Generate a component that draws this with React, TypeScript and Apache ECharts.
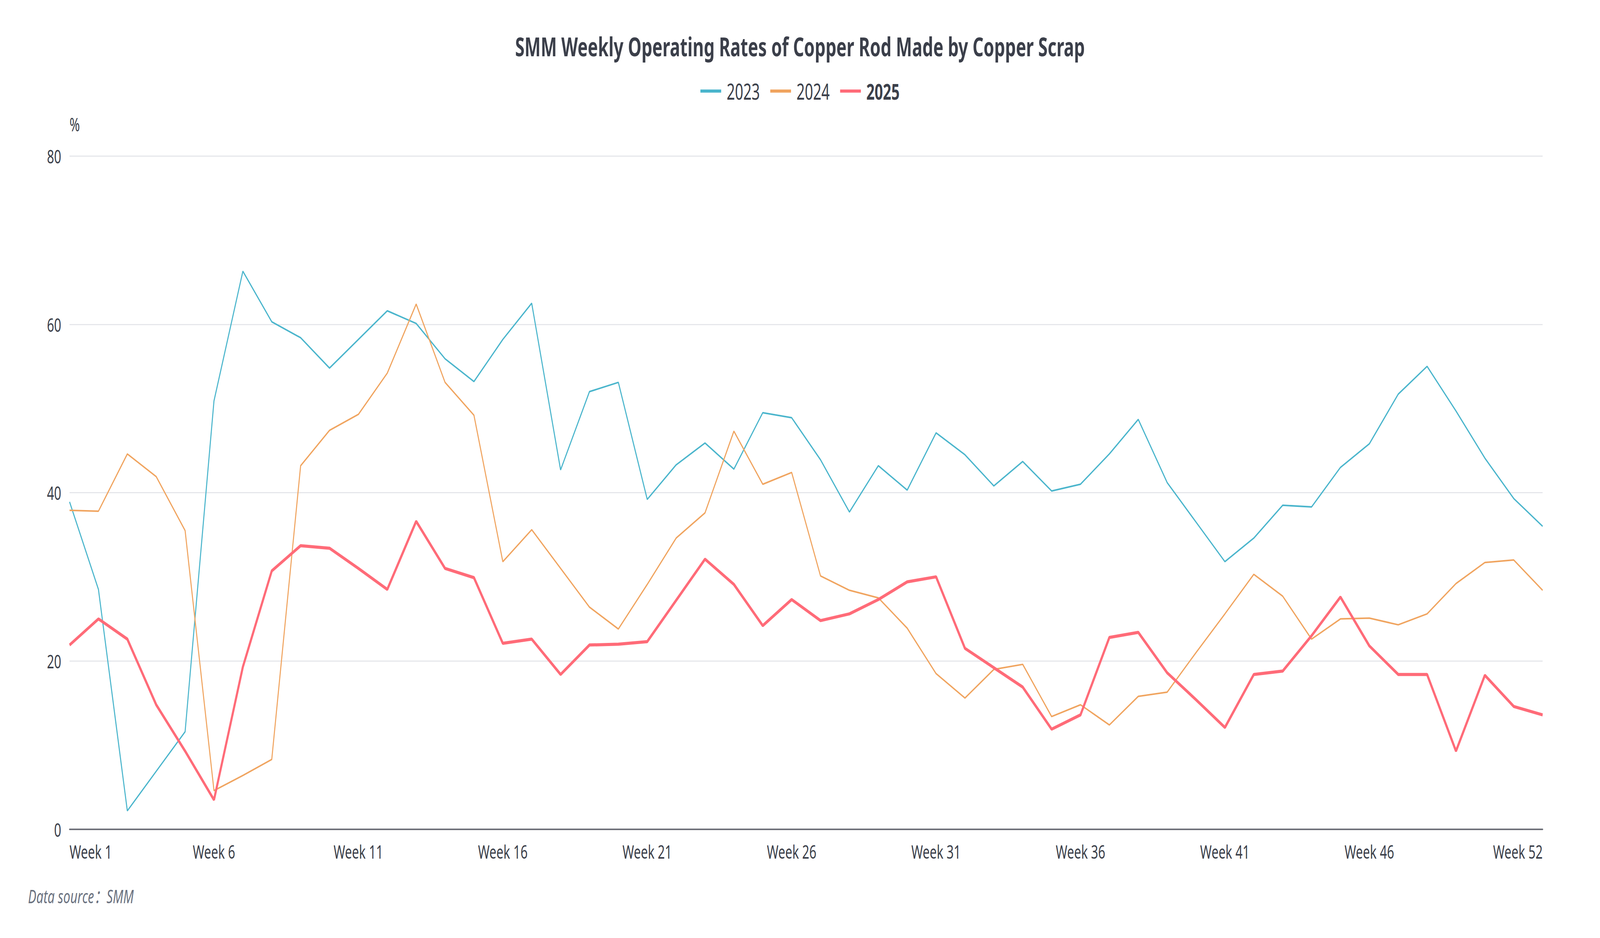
import React, { useEffect, useRef } from "react";
import * as echarts from "echarts";

const weeks = [
  "Week 1", "Week 2", "Week 3", "Week 4", "Week 5", "Week 6", "Week 7", "Week 8", "Week 9", "Week 10",
  "Week 11", "Week 12", "Week 13", "Week 14", "Week 15", "Week 16", "Week 17", "Week 18", "Week 19", "Week 20",
  "Week 21", "Week 22", "Week 23", "Week 24", "Week 25", "Week 26", "Week 27", "Week 28", "Week 29", "Week 30",
  "Week 31", "Week 32", "Week 33", "Week 34", "Week 35", "Week 36", "Week 37", "Week 38", "Week 39", "Week 40",
  "Week 41", "Week 42", "Week 43", "Week 44", "Week 45", "Week 46", "Week 47", "Week 48", "Week 49", "Week 50",
  "Week 51", "Week 52",
];

const rates2023 = [
  38.9, 28.5, 2.2, 6.9, 11.6, 50.9, 66.3, 60.3, 58.4, 54.8,
  58.2, 61.6, 60.1, 55.9, 53.2, 58.2, 62.5, 42.7, 52.0, 53.1,
  39.2, 43.3, 45.9, 42.8, 49.5, 48.9, 43.9, 37.7, 43.2, 40.3,
  47.1, 44.5, 40.8, 43.7, 40.2, 41.0, 44.6, 48.7, 41.2, 36.5,
  31.8, 34.6, 38.5, 38.3, 43.0, 45.8, 51.7, 55.0, 49.7, 44.1, 39.3, 36.0,
];

const rates2024 = [
  37.9, 37.8, 44.6, 41.9, 35.5, 4.6, 6.4, 8.3, 43.2, 47.4,
  49.3, 54.2, 62.4, 53.1, 49.2, 31.8, 35.6, 31.0, 26.4, 23.8,
  29.1, 34.6, 37.6, 47.3, 41.0, 42.4, 30.1, 28.4, 27.5, 23.9,
  18.5, 15.6, 19.0, 19.6, 13.4, 14.8, 12.4, 15.8, 16.3, 21.0,
  25.6, 30.3, 27.7, 22.6, 25.0, 25.1, 24.3, 25.6, 29.2, 31.7, 32.0, 28.4,
];

const rates2025 = [
  21.9, 25.0, 22.6, 14.8, 9.3, 3.5, 19.3, 30.7, 33.7, 33.4,
  31.0, 28.5, 36.6, 31.0, 29.9, 22.1, 22.6, 18.4, 21.9, 22.0,
  22.3, 27.2, 32.1, 29.1, 24.2, 27.3, 24.8, 25.6, 27.3, 29.4,
  30.0, 21.5, 19.2, 16.9, 11.9, 13.6, 22.8, 23.4, 18.6, 15.4,
  12.1, 18.4, 18.8, 23.0, 27.6, 21.8, 18.4, 18.4, 9.3, 18.3, 14.6, 13.6,
];

const seriesNames = ["2023", "2024", "2025"];
const yTicks = { min: 0, max: 80, interval: 20 };

const FONT = '"Noto Sans", "Noto Sans CJK SC", sans-serif';
const TEXT = "#3b3f4a";
const W = 6164;
const H = 2400;

export default function App() {
  const ref = useRef<HTMLDivElement>(null);
  const sx = typeof window !== "undefined" ? Math.min(1, window.innerWidth / W) : 1;
  const sy = typeof window !== "undefined" ? Math.min(1, window.innerHeight / H) : 1;

  useEffect(() => {
    if (!ref.current) return;
    const chart = echarts.init(ref.current, null, { renderer: "svg", width: W, height: H });
    chart.setOption({
      animation: false,
      backgroundColor: "#ffffff",
      textStyle: { fontFamily: FONT },
      title: {
        text: "SMM Weekly Operating Rates of Copper Rod Made by Copper Scrap",
        left: "center",
        top: 80,
        textStyle: { fontSize: 66, fontWeight: "bold", color: TEXT, fontFamily: FONT },
      },
      legend: {
        top: 200,
        left: "center",
        icon: "rect",
        itemWidth: 80,
        itemHeight: 8,
        itemGap: 40,
        textStyle: { fontSize: 56, color: TEXT, fontFamily: FONT, padding: [0, 0, 0, 16] },
        data: [
          { name: seriesNames[0] },
          { name: seriesNames[1] },
          { name: seriesNames[2], textStyle: { fontWeight: "bold" } },
        ],
      },
      grid: { left: 268, right: 221, top: 399, bottom: 278, containLabel: false },
      xAxis: {
        type: "category",
        boundaryGap: false,
        data: weeks,
        axisLine: { lineStyle: { color: "#6e7079", width: 4 } },
        axisTick: { show: false },
        axisLabel: {
          fontSize: 48,
          color: TEXT,
          margin: 32,
          fontFamily: FONT,
          alignMinLabel: "left",
          alignMaxLabel: "right",
          interval: (i: number) => (i % 5 === 0 && i < 50) || i === 51,
        },
        splitLine: { show: false },
      },
      yAxis: {
        type: "value",
        min: yTicks.min,
        max: yTicks.max,
        interval: yTicks.interval,
        name: "%",
        nameGap: 58,
        nameTextStyle: { fontSize: 48, color: TEXT, align: "left", fontFamily: FONT },
        axisLine: { show: false },
        axisTick: { show: false },
        axisLabel: { fontSize: 48, color: TEXT, margin: 32, fontFamily: FONT },
        splitLine: { lineStyle: { color: "#e6e7eb", width: 3 } },
      },
      series: [
        {
          name: seriesNames[0],
          type: "line",
          data: rates2023,
          showSymbol: false,
          symbol: "none",
          color: "#4ab5cc",
          lineStyle: { width: 4, color: "#4ab5cc" },
          z: 2,
        },
        {
          name: seriesNames[1],
          type: "line",
          data: rates2024,
          showSymbol: false,
          symbol: "none",
          color: "#f0a45f",
          lineStyle: { width: 4, color: "#f0a45f" },
          z: 3,
        },
        {
          name: seriesNames[2],
          type: "line",
          data: rates2025,
          showSymbol: false,
          symbol: "none",
          color: "#ff6b78",
          lineStyle: { width: 8, color: "#ff6b78" },
          z: 4,
        },
      ],
      graphic: [
        {
          type: "text",
          left: 108,
          top: 2268,
          style: {
            text: "Data source：SMM",
            font: 'italic 48px "Noto Sans", "Noto Sans CJK SC", sans-serif',
            fill: "#6b7280",
          },
        },
      ],
    });
    return () => chart.dispose();
  }, []);

  return (
    <div
      ref={ref}
      style={{
        position: "fixed",
        left: 0,
        top: 0,
        width: W,
        height: H,
        transformOrigin: "0 0",
        transform: `scale(${sx}, ${sy})`,
      }}
    />
  );
}
